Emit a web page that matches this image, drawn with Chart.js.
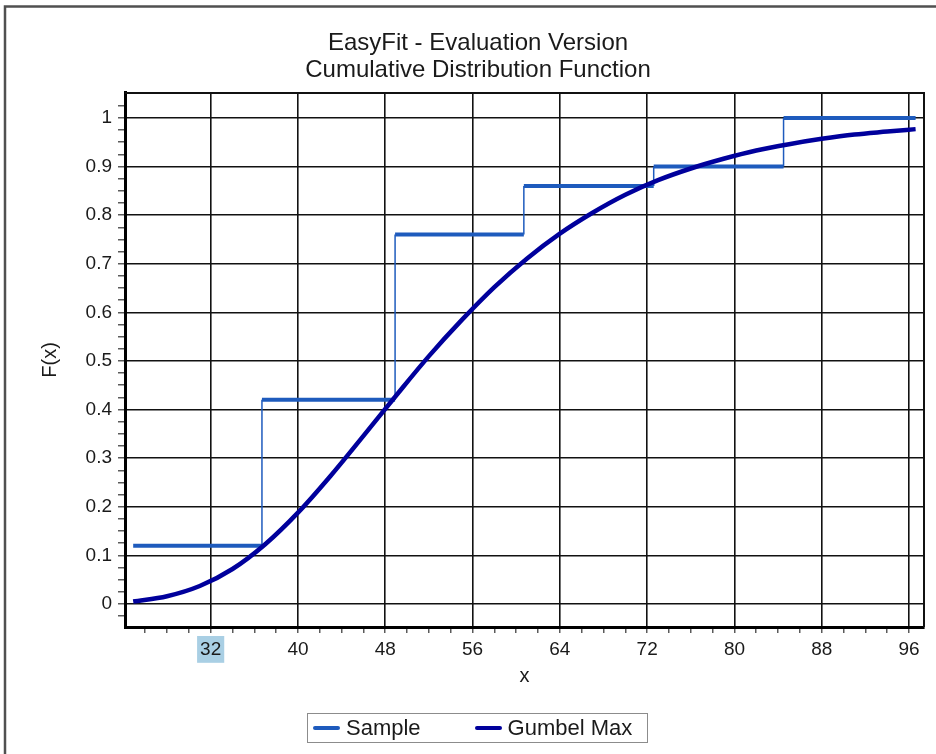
<!DOCTYPE html>
<html>
<head>
<meta charset="utf-8">
<title>Cumulative Distribution Function</title>
<script src="https://cdn.jsdelivr.net/npm/chart.js@4.4.0/dist/chart.umd.min.js"></script>
<style>
    html, body {
        margin: 0;
        padding: 0;
        background: #fff;
        overflow: hidden;
    }

    .chart-wrap {
        position: absolute;
        left: 0;
        top: 0;
        width: 956px;
        height: 754px;
    }

    .legend-box {
        position: absolute;
        left: 307px;
        top: 713px;
        width: 341px;
        height: 30px;
        box-sizing: border-box;
        border: 1.5px solid #8c8c8c;
        display: flex;
        align-items: center;
        padding-left: 5px;
        white-space: nowrap;
        font-family: 'Liberation Sans', Arial, sans-serif;
        font-size: 22px;
        color: #1a1a1a;
    }

    .legend-item {
        display: flex;
        align-items: center;
        flex-shrink: 0;
        margin-right: 54px;
    }

    .legend-item:last-child {
        margin-right: 0;
    }

    .legend-line {
        width: 27px;
        height: 4px;
        border-radius: 2px;
        margin-right: 6px;
    }
</style>
</head>
<body>
<div class="chart-wrap">
    <canvas id="cdfChart" width="956" height="754"></canvas>
    <div class="legend-box" id="cdfLegend"></div>
</div>
<script>
// Sample: empirical CDF, one level per step between consecutive edges
const sampleEdges = [24.9, 36.7, 48.9, 60.7, 72.6, 84.5, 96.6];
const sampleLevels = [0.12, 0.42, 0.76, 0.86, 0.90, 1.0];

// Gumbel Max: fitted CDF read along x
const gumbelX = [24.9, 28, 31, 34, 37, 40, 43, 46, 49, 52, 55, 58, 61,
                 64, 67, 70, 73, 76, 79, 82, 85, 88, 91, 94, 96.6];
const gumbelF = [0.005, 0.016, 0.037, 0.072, 0.123, 0.188, 0.264, 0.346, 0.429,
                 0.510, 0.584, 0.652, 0.711, 0.762, 0.805, 0.842, 0.872, 0.896,
                 0.916, 0.933, 0.946, 0.957, 0.966, 0.972, 0.977];

// Axis ranges and tick spacing
const xRange = [24.15, 97.37];
const xMinorStep = 2;
const xLabelStep = 8;
const yRange = [-0.0473, 1.0514];
const yMinorStep = 0.025;
const highlightedTick = 32;

const titleLines = ['EasyFit - Evaluation Version', 'Cumulative Distribution Function'];

const FONT = "'Liberation Sans', Arial, sans-serif";
const TEXT_COLOR = '#1a1a1a';
const SAMPLE_COLOR = '#1e5bbd';
const GUMBEL_COLOR = '#00009c';

function buildSteps(edges, levels) {
    const points = [];
    levels.forEach((level, i) => {
        points.push({ x: edges[i], y: level });
        points.push({ x: edges[i + 1], y: level });
    });
    return points;
}

function isMajorY(v) {
    return Math.abs(v * 10 - Math.round(v * 10)) < 1e-6;
}

function isMajorX(v) {
    return Math.abs(v % xLabelStep) < 1e-6;
}

// Outer frame plus the top/right edges of the plot box
const framePlugin = {
    id: 'frame',
    beforeDraw(chart) {
        const ctx = chart.ctx;
        ctx.save();
        ctx.fillStyle = '#fff';
        ctx.fillRect(0, 0, chart.width, chart.height);
        ctx.strokeStyle = '#505050';
        ctx.lineWidth = 2.5;
        ctx.strokeRect(5, 6.5, chart.width + 20, chart.height + 20);
        ctx.restore();
    },
    afterDraw(chart) {
        const { ctx, chartArea } = chart;
        ctx.save();
        ctx.strokeStyle = '#111';
        ctx.lineWidth = 2;
        ctx.beginPath();
        ctx.moveTo(chartArea.left, chartArea.top);
        ctx.lineTo(chartArea.right, chartArea.top);
        ctx.lineTo(chartArea.right, chartArea.bottom);
        ctx.stroke();
        ctx.restore();
    }
};

function renderCdfChart() {
    const ctx = document.getElementById('cdfChart').getContext('2d');

    return new Chart(ctx, {
        type: 'line',
        data: {
            datasets: [{
                label: 'Sample',
                data: buildSteps(sampleEdges, sampleLevels),
                borderColor: SAMPLE_COLOR,
                backgroundColor: SAMPLE_COLOR,
                borderWidth: 4,
                borderCapStyle: 'butt',
                pointRadius: 0,
                tension: 0,
                order: 1,
                // thick levels, thin risers
                segment: {
                    borderWidth: c => c.p0.parsed.y === c.p1.parsed.y ? 4 : 1.5
                }
            }, {
                label: 'Gumbel Max',
                data: gumbelX.map((x, i) => ({ x: x, y: gumbelF[i] })),
                borderColor: GUMBEL_COLOR,
                backgroundColor: GUMBEL_COLOR,
                borderWidth: 4.5,
                pointRadius: 0,
                tension: 0.4,
                cubicInterpolationMode: 'monotone',
                order: 0
            }]
        },
        options: {
            responsive: false,
            animation: false,
            layout: {
                padding: { top: 29.6, left: 32, right: 32, bottom: 41 }
            },
            plugins: {
                legend: { display: false },
                tooltip: { enabled: false },
                title: {
                    display: true,
                    text: titleLines,
                    color: TEXT_COLOR,
                    font: { family: FONT, size: 24, weight: 'normal', lineHeight: 1.12 },
                    padding: { top: 0, bottom: 9.6 }
                }
            },
            scales: {
                x: {
                    type: 'linear',
                    min: xRange[0],
                    max: xRange[1],
                    afterFit: scale => { scale.height = 86; },
                    ticks: {
                        stepSize: xMinorStep,
                        autoSkip: false,
                        includeBounds: false,
                        maxRotation: 0,
                        padding: 5,
                        color: TEXT_COLOR,
                        font: { family: FONT, size: 19 },
                        callback: v => isMajorX(v) ? String(v) : '',
                        showLabelBackdrop: c => !!c.tick && c.tick.value === highlightedTick,
                        backdropColor: '#a9cfe4',
                        backdropPadding: { top: 2, bottom: 2, left: 3, right: 3 }
                    },
                    grid: {
                        color: c => (c.tick && isMajorX(c.tick.value)) ? '#111' : 'rgba(0,0,0,0)',
                        lineWidth: 1.6,
                        tickColor: '#333',
                        tickWidth: 1.2,
                        tickLength: 6
                    },
                    border: { color: '#000', width: 3 },
                    title: {
                        display: true,
                        text: 'x',
                        color: TEXT_COLOR,
                        font: { family: FONT, size: 20 },
                        padding: { top: 0, bottom: 25 }
                    }
                },
                y: {
                    type: 'linear',
                    min: yRange[0],
                    max: yRange[1],
                    afterBuildTicks: scale => {
                        scale.ticks = scale.ticks.filter(t => t.value < 1.04);
                    },
                    afterFit: scale => { scale.width = 93; },
                    ticks: {
                        stepSize: yMinorStep,
                        autoSkip: false,
                        includeBounds: false,
                        padding: 6,
                        color: TEXT_COLOR,
                        font: { family: FONT, size: 19 },
                        callback: v => isMajorY(v) ? String(Math.round(v * 10) / 10) : ''
                    },
                    grid: {
                        color: c => (c.tick && isMajorY(c.tick.value)) ? '#111' : 'rgba(0,0,0,0)',
                        lineWidth: 1.6,
                        tickColor: '#333',
                        tickWidth: 1.2,
                        tickLength: 7
                    },
                    border: { color: '#000', width: 3 },
                    title: {
                        display: true,
                        text: 'F(x)',
                        color: TEXT_COLOR,
                        font: { family: FONT, size: 20 },
                        padding: { top: 6, bottom: 0 }
                    }
                }
            }
        },
        plugins: [framePlugin]
    });
}

// Legend box under the plot, built from the datasets
function renderLegend(chart) {
    const container = document.getElementById('cdfLegend');
    let html = '';
    chart.data.datasets.forEach(ds => {
        html += `
            <div class="legend-item">
                <span class="legend-line" style="background: ${ds.borderColor}"></span>
                <span>${ds.label}</span>
            </div>`;
    });
    container.innerHTML = html;
}

const cdfChart = renderCdfChart();
renderLegend(cdfChart);
</script>
</body>
</html>
